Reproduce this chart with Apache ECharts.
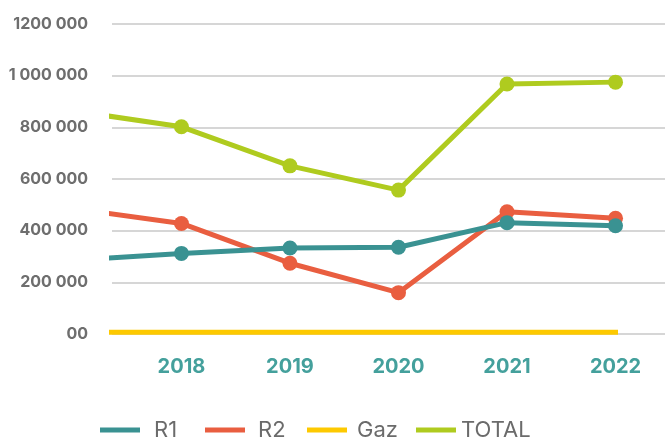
<!DOCTYPE html>
<html>
<head>
<meta charset="utf-8">
<script src="https://cdn.jsdelivr.net/npm/echarts@6/dist/echarts.min.js"></script>
<style>
  html, body { margin: 0; padding: 0; background: #fff; }
  #main { width: 665px; height: 440px; }
</style>
</head>
<body>
<div id="main"></div>
<script>
// années (2017 n'est visible qu'en partie, coupée au bord gauche)
var years = [2017, 2018, 2019, 2020, 2021, 2022];
var yearLabels = [2018, 2019, 2020, 2021, 2022];

var r1 = [285000, 312000, 333000, 336000, 431000, 419000];
var r2 = [486000, 428000, 274000, 160000, 473000, 448000];
var gaz = [6500, 6500, 6500, 6500, 6500, 6500];
var total = [864000, 802000, 651000, 557000, 968000, 975000];

// libellés de l'axe Y tels qu'ils apparaissent
var yTickLabels = ['00', '200 000', '400 000', '600 000', '800 000', '1 000 000', '1200 000'];

var seriesNames = ['R1', 'R2', 'Gaz', 'TOTAL'];

function pairs(vals) {
  return years.map(function (y, i) { return [y, vals[i]]; });
}

var chartDom = document.getElementById('main');
var myChart = echarts.init(chartDom);
var font = 'Inter, "Open Sans", sans-serif';

// une légende par série pour placer chaque entrée comme sur l'original
var legendLeft = [95, 200, 302, 411];
var legendPad = [9, 8, 5, 0];
var legends = seriesNames.map(function (name, i) {
  return {
    left: legendLeft[i],
    top: 414,
    icon: 'rect',
    itemWidth: 40,
    itemHeight: 5,
    textStyle: { fontFamily: font, fontSize: 22, color: '#6b6b6b', padding: [0, 0, 0, legendPad[i]] },
    data: [name]
  };
});

var option = {
  animation: false,
  grid: { left: 112, right: 0, top: 24, bottom: 106 },
  legend: legends,
  xAxis: {
    type: 'value',
    min: 2017.36,
    max: 2022.456,
    axisLine: { show: false },
    axisTick: { show: false },
    splitLine: { show: false },
    axisLabel: {
      customValues: yearLabels,
      margin: 23,
      fontFamily: font,
      fontSize: 20,
      fontWeight: 'bold',
      color: '#44a09c',
      formatter: function (v) { return String(v); }
    }
  },
  yAxis: {
    type: 'value',
    min: 0,
    max: 1200000,
    interval: 200000,
    axisLine: { show: false },
    axisTick: { show: false },
    splitLine: { lineStyle: { color: '#d6d6d6', width: 2 } },
    axisLabel: {
      margin: 24,
      fontFamily: font,
      fontSize: 16,
      fontWeight: 'bold',
      color: '#6e6e6e',
      formatter: function (v) { return yTickLabels[Math.round(v / 200000)]; }
    }
  },
  series: [
    {
      name: 'R1', type: 'line', data: pairs(r1),
      symbol: 'circle', symbolSize: 15,
      lineStyle: { width: 5, color: '#3a9292' },
      itemStyle: { color: '#3a9292' },
      z: 4
    },
    {
      name: 'R2', type: 'line', data: pairs(r2),
      symbol: 'circle', symbolSize: 15,
      lineStyle: { width: 5, color: '#e95e40' },
      itemStyle: { color: '#e95e40' },
      z: 3
    },
    {
      name: 'Gaz', type: 'line', data: pairs(gaz),
      symbol: 'none',
      lineStyle: { width: 5, color: '#fdc900', cap: 'square' },
      itemStyle: { color: '#fdc900' },
      z: 2
    },
    {
      name: 'TOTAL', type: 'line', data: pairs(total),
      symbol: 'circle', symbolSize: 15,
      lineStyle: { width: 5, color: '#afcb1f' },
      itemStyle: { color: '#afcb1f' },
      z: 5
    }
  ]
};

// le premier point (2017) n'a pas de marqueur visible
option.series.forEach(function (s) {
  if (s.symbol === 'circle') {
    s.data[0] = { value: s.data[0], symbol: 'none' };
  }
});

myChart.setOption(option);
</script>
</body>
</html>
